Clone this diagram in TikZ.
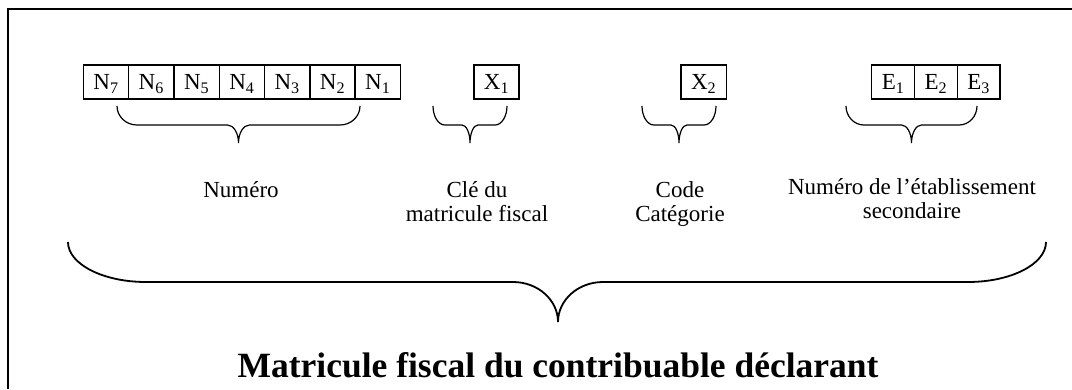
\documentclass[tikz,border=0pt]{standalone}
\usepackage{fontspec}
\setmainfont{Liberation Serif}
\usetikzlibrary{positioning}

\newcommand{\curlybrace}[9]{%
  \draw[#1] (#2,#5) .. controls (#2,{#5+0.552*(#6-#5)}) and ({#2+0.448*#8},#6) .. ({#2+#8},#6)
    -- ({#4-#9},#6) .. controls ({#4-0.448*#9},#6) and (#4,{#7-0.552*(#7-#6)}) .. (#4,#7)
    .. controls (#4,{#7-0.552*(#7-#6)}) and ({#4+0.448*#9},#6) .. ({#4+#9},#6)
    -- ({#3-#8},#6) .. controls ({#3-0.448*#8},#6) and (#3,{#5+0.552*(#6-#5)}) .. (#3,#5);}

\begin{document}
\begin{tikzpicture}[x=1pt, y=-1pt, node distance=0pt, font=\fontsize{23}{24}\selectfont]
            \tikzstyle{cell} = [rectangle, draw, line width=1.4pt, minimum width=45.3pt, minimum height=34pt, text height=15.2pt, text depth=0pt, inner sep=0pt, outer sep=0pt]
            \tikzstyle{ecell} = [cell, minimum width=42.8pt]
            \tikzstyle{desc} = [align=center, anchor=base, inner sep=0pt]
            \tikzstyle{smallbrace} = [line width=1.2pt]
            \tikzstyle{bigbrace} = [line width=1.8pt]

            \useasboundingbox (0,0) rectangle (1072,389);
            \draw [line width=2.2pt] (8,389) -- (8,9) -- (1072,9);

            \node [cell] (n7) at (106,82) {N\textsubscript{7}};
            \node [cell, right=of n7] (n6) {N\textsubscript{6}};
            \node [cell, right=of n6] (n5) {N\textsubscript{5}};
            \node [cell, right=of n5] (n4) {N\textsubscript{4}};
            \node [cell, right=of n4] (n3) {N\textsubscript{3}};
            \node [cell, right=of n3] (n2) {N\textsubscript{2}};
            \node [cell, right=of n2] (n1) {N\textsubscript{1}};
            \node [cell] (x1) at (496.5,82) {X\textsubscript{1}};
            \node [cell] (x2) at (703.7,82) {X\textsubscript{2}};
            \node [ecell] (e1) at (893.1,82) {E\textsubscript{1}};
            \node [ecell, right=of e1] (e2) {E\textsubscript{2}};
            \node [ecell, right=of e2] (e3) {E\textsubscript{3}};

            \curlybrace{smallbrace}{117}{360}{238.5}{106}{125}{143}{20}{11}
            \curlybrace{smallbrace}{433}{507}{470}{106}{125}{143}{12}{8}
            \curlybrace{smallbrace}{642}{716}{679}{106}{125}{143}{12}{8}
            \curlybrace{smallbrace}{846}{977}{911.5}{106}{125}{143}{18}{10}

            \node [desc] (num) at (241,197) {Numéro};
            \node [desc] (cle) at (477,221) {Clé du\\matricule fiscal};
            \node [desc] (code) at (680,221) {Code\\Catégorie};
            \node [desc] (etab) at (912,218) {Numéro de l’établissement\\secondaire};

            \curlybrace{bigbrace}{68}{1046}{558}{242}{282}{322}{78}{45}

            \node [anchor=base, font=\fontsize{35.5}{40}\selectfont\bfseries] (title) at (558,377) {Matricule fiscal du contribuable déclarant};
        \end{tikzpicture}
\end{document}
